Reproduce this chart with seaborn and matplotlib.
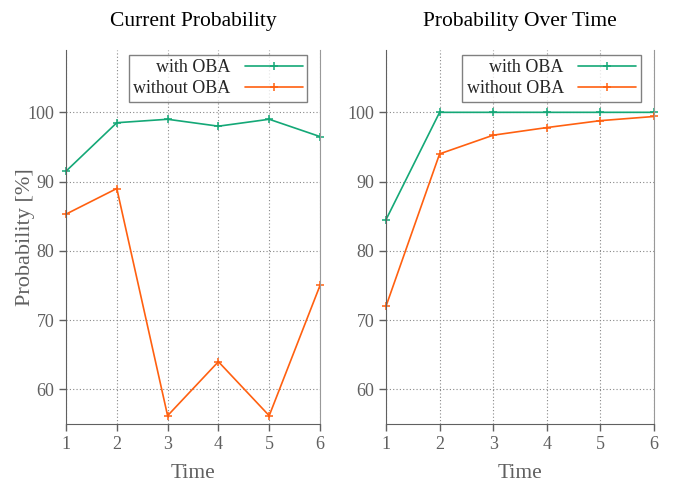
import numpy as np
import pandas as pd
import matplotlib
matplotlib.use("Agg")
import matplotlib.pyplot as plt
import seaborn as sns

time = [1, 2, 3, 4, 5, 6]
current_with = [91.5, 98.5, 99.0, 98.0, 99.0, 96.5]
current_without = [85.3, 89.0, 56.2, 64.0, 56.2, 75.0]
overtime_with = [84.5, 100.0, 100.0, 100.0, 100.0, 100.0]
overtime_without = [72.0, 94.0, 96.7, 97.8, 98.8, 99.4]
series_names = ["with OBA", "without OBA"]
titles = ["Current Probability", "Probability Over Time"]
yticks = [60, 70, 80, 90, 100]

sns.set_style("ticks")
plt.rcParams['font.family'] = ['Liberation Serif', 'DejaVu Serif']

def make_df(w, wo):
    return pd.DataFrame({
        "Time": time + time,
        "Probability": w + wo,
        "Series": [series_names[0]] * len(time) + [series_names[1]] * len(time),
    })

dfs = [make_df(current_with, current_without), make_df(overtime_with, overtime_without)]
palette = {"with OBA": "#14a877", "without OBA": "#ff6010"}

fig = plt.figure(figsize=(6.74, 4.82), dpi=100)
ax1 = fig.add_axes([66/674, 58/482, 254/674, 374/482])
ax2 = fig.add_axes([386/674, 58/482, 268/674, 374/482])
axes = [ax1, ax2]
gray = "#606060"

for i, (ax, df) in enumerate(zip(axes, dfs)):
    sns.lineplot(data=df, x="Time", y="Probability", hue="Series", palette=palette,
                 marker="+", markersize=6, markeredgewidth=1.1, linewidth=1.2,
                 ax=ax, legend=False)
    for ln in ax.get_lines():
        ln.set_markeredgecolor(ln.get_color())
        ln.set_clip_on(False)
    ax.set_xlim(1, 6)
    ax.set_ylim(55, 109)
    ax.set_xticks(time)
    ax.set_yticks(yticks)
    ax.grid(True, linestyle=(0, (1, 2)), color="#888888", linewidth=0.8)
    ax.set_axisbelow(True)
    ax.spines["top"].set_visible(False)
    ax.spines["left"].set_color(gray)
    ax.spines["bottom"].set_color(gray)
    ax.spines["right"].set_color("#999999")
    ax.spines["right"].set_linewidth(0.8)
    ax.tick_params(axis="both", colors=gray, labelsize=13, length=5, width=1)
    ax.tick_params(axis="y", right=False)
    ax.set_title(titles[i], fontsize=15.5, color="black", pad=17)
    ax.set_xlabel("Time", fontsize=15.5, color=gray, labelpad=8)
    if i == 0:
        ax.set_ylabel("Probability [%]", fontsize=16, color=gray, labelpad=-5.5)
    else:
        ax.set_ylabel("")
    lines = ax.get_lines()[:2]
    leg = ax.legend(lines, series_names, loc="upper right", bbox_to_anchor=(0.95, 0.987),
                    markerfirst=False, fontsize=13, frameon=True, fancybox=False,
                    handlelength=3.2, borderpad=0.25, labelspacing=0.2,
                    handletextpad=0.8, borderaxespad=0)
    leg.get_frame().set_edgecolor(gray)
    leg.get_frame().set_linewidth(1.0)
    leg._legend_box.align = "right"

fig.savefig("out.png", dpi=100)
